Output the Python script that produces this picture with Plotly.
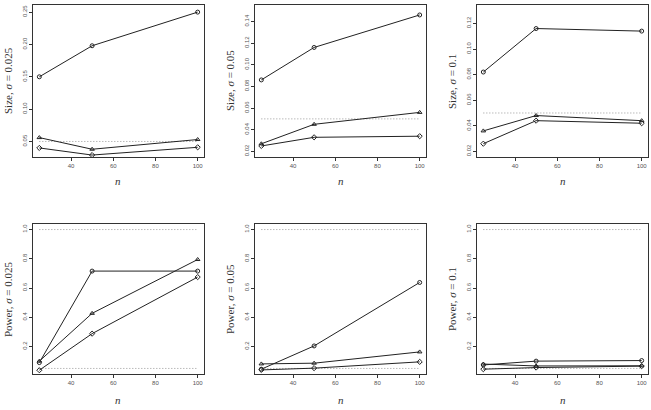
import plotly.graph_objects as go

W, H = 651, 410

n_values = [25, 50, 100]

# Size panels (top row)
size_025_circle = [0.150, 0.198, 0.250]
size_025_triangle = [0.056, 0.038, 0.053]
size_025_diamond = [0.040, 0.029, 0.041]

size_05_circle = [0.086, 0.116, 0.146]
size_05_triangle = [0.027, 0.045, 0.056]
size_05_diamond = [0.025, 0.033, 0.034]

size_1_circle = [0.082, 0.116, 0.114]
size_1_triangle = [0.036, 0.048, 0.044]
size_1_diamond = [0.026, 0.044, 0.042]

# Power panels (bottom row)
power_025_circle = [0.09, 0.716, 0.716]
power_025_triangle = [0.10, 0.427, 0.795]
power_025_diamond = [0.038, 0.288, 0.675]

power_05_circle = [0.045, 0.204, 0.638]
power_05_triangle = [0.081, 0.086, 0.163]
power_05_diamond = [0.040, 0.052, 0.095]

power_1_circle = [0.074, 0.100, 0.104]
power_1_triangle = [0.080, 0.067, 0.068]
power_1_diamond = [0.045, 0.056, 0.066]

size_ref = [0.05]
power_ref = [0.05, 1.0]

panel_titles = [
    "Size, <i>σ</i> = 0.025", "Size, <i>σ</i> = 0.05", "Size, <i>σ</i> = 0.1",
    "Power, <i>σ</i> = 0.025", "Power, <i>σ</i> = 0.05", "Power, <i>σ</i> = 0.1",
]

size_ticks = [
    [0.05, 0.10, 0.15, 0.20, 0.25],
    [0.02, 0.04, 0.06, 0.08, 0.10, 0.12, 0.14],
    [0.02, 0.04, 0.06, 0.08, 0.10, 0.12],
]
power_ticks = [0.2, 0.4, 0.6, 0.8, 1.0]
x_ticks = [40, 60, 80, 100]

panels = [
    (size_025_circle, size_025_triangle, size_025_diamond, size_ref, size_ticks[0], [0.026, 0.261]),
    (size_05_circle, size_05_triangle, size_05_diamond, size_ref, size_ticks[1], [0.0148, 0.1552]),
    (size_1_circle, size_1_triangle, size_1_diamond, size_ref, size_ticks[2], [0.0156, 0.1344]),
    (power_025_circle, power_025_triangle, power_025_diamond, power_ref, power_ticks, [0.012, 1.038]),
    (power_05_circle, power_05_triangle, power_05_diamond, power_ref, power_ticks, [0.012, 1.038]),
    (power_1_circle, power_1_triangle, power_1_diamond, power_ref, power_ticks, [0.012, 1.038]),
]

# pixel layout of boxes
col_left = [33, 255, 477]
col_w = 171
row_top = [5, 224]
row_h = [152, 150]

fig = go.Figure()
annotations = []
line_col = "#222222"
tick_font = dict(family="Liberation Sans, Arial", size=6, color="#555555")
title_font = dict(family="Liberation Serif, DejaVu Serif", size=11, color="#333333")

for i, (c, t, d, refs, yt, yr) in enumerate(panels):
    r, col = divmod(i, 3)
    k = "" if i == 0 else str(i + 1)
    xa, ya = "x" + k, "y" + k
    x0 = col_left[col] / W
    x1 = (col_left[col] + col_w) / W
    y1 = 1 - row_top[r] / H
    y0 = 1 - (row_top[r] + row_h[r]) / H

    for ref in refs:
        fig.add_trace(go.Scatter(x=[n_values[0], n_values[-1]], y=[ref, ref], mode="lines",
                                 line=dict(color="#999999", width=1, dash="1px,2px"),
                                 xaxis=xa, yaxis=ya, showlegend=False, hoverinfo="skip"))
    for vals, sym in [(c, "circle-open"), (t, "triangle-up-open"), (d, "diamond-open")]:
        fig.add_trace(go.Scatter(x=n_values, y=vals, mode="lines+markers",
                                 line=dict(color=line_col, width=1),
                                 marker=dict(symbol=sym, size=4, color=line_col, line=dict(width=1, color=line_col)),
                                 xaxis=xa, yaxis=ya, showlegend=False, cliponaxis=True))

    fmt = ".2f" if r == 0 else ".1f"
    fig.layout["xaxis" + k] = dict(domain=[x0, x1], range=[22, 103], anchor=ya,
                                   tickvals=x_ticks, ticks="outside", ticklen=3, tickwidth=1,
                                   tickcolor="#333", showline=True, mirror=True, linecolor="#333",
                                   linewidth=1, showgrid=False, zeroline=False, tickfont=tick_font)
    fig.layout["yaxis" + k] = dict(domain=[y0, y1], range=yr, anchor=xa,
                                   tickvals=yt, tickformat=fmt, tickangle=-90,
                                   ticks="outside", ticklen=3, tickwidth=1,
                                   tickcolor="#333", showline=True, mirror=True, linecolor="#333",
                                   linewidth=1, showgrid=False, zeroline=False, tickfont=tick_font)
    # y title
    annotations.append(dict(text=panel_titles[i], textangle=-90, showarrow=False,
                            x=(col_left[col] - 25) / W, y=1 - (row_top[r] + row_h[r] / 2) / H,
                            xref="paper", yref="paper", xanchor="center", yanchor="middle",
                            font=title_font))
    # x title
    xt_y = 181.5 if r == 0 else 400
    annotations.append(dict(text="<i>n</i>", showarrow=False,
                            x=(col_left[col] + col_w / 2) / W, y=1 - xt_y / H,
                            xref="paper", yref="paper", xanchor="center", yanchor="middle",
                            font=title_font))

fig.update_layout(width=W, height=H, margin=dict(l=0, r=0, t=0, b=0),
                  paper_bgcolor="white", plot_bgcolor="white", annotations=annotations)
fig.write_html("out.html")
